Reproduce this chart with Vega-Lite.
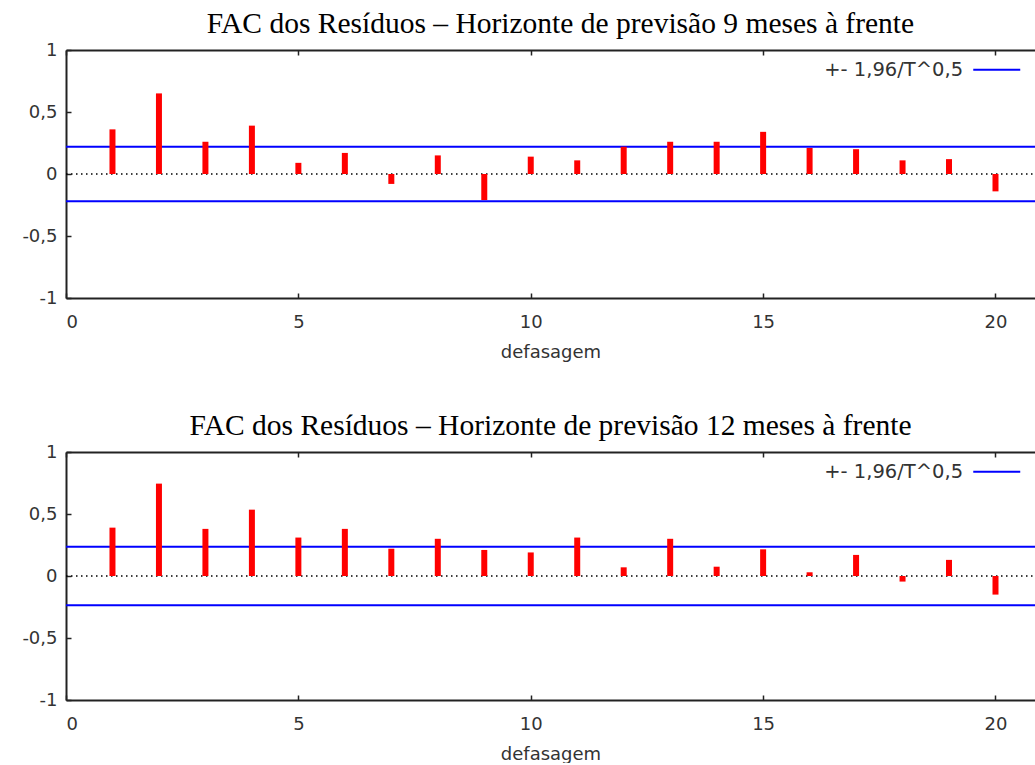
{
  "$schema": "https://vega.github.io/schema/vega-lite/v6.json",
  "padding": {"left": 21, "top": 8, "right": 0, "bottom": 0},
  "background": "white",
  "spacing": 49,
  "resolve": {"scale": {"color": "independent"}, "legend": {"color": "independent"}},
  "datasets": {
    "fac9": [
      {"lag": 1, "fac": 0.36}, {"lag": 2, "fac": 0.65}, {"lag": 3, "fac": 0.26}, {"lag": 4, "fac": 0.39},
      {"lag": 5, "fac": 0.09}, {"lag": 6, "fac": 0.17}, {"lag": 7, "fac": -0.08}, {"lag": 8, "fac": 0.15},
      {"lag": 9, "fac": -0.21}, {"lag": 10, "fac": 0.14}, {"lag": 11, "fac": 0.11}, {"lag": 12, "fac": 0.22},
      {"lag": 13, "fac": 0.26}, {"lag": 14, "fac": 0.26}, {"lag": 15, "fac": 0.34}, {"lag": 16, "fac": 0.21},
      {"lag": 17, "fac": 0.2}, {"lag": 18, "fac": 0.11}, {"lag": 19, "fac": 0.12}, {"lag": 20, "fac": -0.14}
    ],
    "fac12": [
      {"lag": 1, "fac": 0.39}, {"lag": 2, "fac": 0.745}, {"lag": 3, "fac": 0.38}, {"lag": 4, "fac": 0.535},
      {"lag": 5, "fac": 0.31}, {"lag": 6, "fac": 0.38}, {"lag": 7, "fac": 0.22}, {"lag": 8, "fac": 0.3},
      {"lag": 9, "fac": 0.21}, {"lag": 10, "fac": 0.19}, {"lag": 11, "fac": 0.31}, {"lag": 12, "fac": 0.07},
      {"lag": 13, "fac": 0.3}, {"lag": 14, "fac": 0.075}, {"lag": 15, "fac": 0.215}, {"lag": 16, "fac": 0.03},
      {"lag": 17, "fac": 0.17}, {"lag": 18, "fac": -0.045}, {"lag": 19, "fac": 0.13}, {"lag": 20, "fac": -0.15}
    ],
    "lim9": [
      {"limite": 0.22, "serie": "+- 1,96/T^0,5"}, {"limite": -0.22, "serie": "+- 1,96/T^0,5"}
    ],
    "lim12": [
      {"limite": 0.235, "serie": "+- 1,96/T^0,5"}, {"limite": -0.235, "serie": "+- 1,96/T^0,5"}
    ],
    "zero": [{"nivel": 0}]
  },
  "config": {
    "view": {"stroke": null},
    "title": {"font": "Liberation Serif", "fontSize": 29.5, "fontWeight": "normal", "color": "#000", "anchor": "middle", "offset": 2},
    "axis": {
      "labelFont": "DejaVu Sans", "labelFontSize": 18, "labelColor": "#333",
      "titleFont": "DejaVu Sans", "titleFontSize": 18, "titleFontWeight": "normal", "titleColor": "#333",
      "domainColor": "#222", "domainWidth": 2, "tickColor": "#222", "tickWidth": 1.5, "tickSize": -5,
      "grid": false
    },
    "legend": {
      "labelFont": "DejaVu Sans", "labelFontSize": 19.5, "labelColor": "#333",
      "symbolType": "M-4,0H4", "symbolStrokeWidth": 2, "symbolSize": 138,
      "labelAlign": "right", "labelOffset": -43.4, "padding": 0
    }
  },
  "vconcat": [
    {
      "width": 969, "height": 248,
      "title": {"text": "FAC dos Resíduos – Horizonte de previsão 9 meses à frente", "dx": 10},
      "resolve": {"axis": {"x": "independent"}},
      "layer": [
        {
          "data": {"name": "lim9"},
          "mark": {"type": "rule", "strokeWidth": 2},
          "encoding": {
            "y": {"field": "limite", "type": "quantitative",
                  "scale": {"domain": [-1, 1], "nice": false},
                  "axis": {"values": [-1, -0.5, 0, 0.5, 1], "title": null, "labelPadding": 14,
                           "labelExpr": "(datum.value < 0 ? '-' : '') + replace(format(abs(datum.value), ''), '.', ',')"}},
            "color": {"field": "serie", "type": "nominal", "scale": {"range": ["#0000ff"]},
                      "legend": {"title": null, "orient": "top-right", "offset": 10}}
          }
        },
        {
          "data": {"name": "zero"},
          "mark": {"type": "rule", "color": "#000", "strokeWidth": 1.5, "strokeDash": [1.5, 3.5]},
          "encoding": {
            "y": {"field": "nivel", "type": "quantitative"},
            "x": {"datum": 0, "type": "quantitative",
                  "axis": {"orient": "top", "labels": false, "title": null, "values": [0, 5, 10, 15, 20]}},
            "x2": {"datum": 20.85}
          }
        },
        {
          "data": {"name": "fac9"},
          "mark": {"type": "rule", "color": "#ff0000", "strokeWidth": 6},
          "encoding": {
            "x": {"field": "lag", "type": "quantitative",
                  "scale": {"domain": [0, 20.85], "nice": false, "zero": false},
                  "axis": {"orient": "bottom", "values": [0, 5, 10, 15, 20], "title": "defasagem", "labelPadding": 20, "titlePadding": 12}},
            "y": {"field": "fac", "type": "quantitative"},
            "y2": {"datum": 0}
          }
        }
      ]
    },
    {
      "width": 969, "height": 248,
      "title": "FAC dos Resíduos – Horizonte de previsão 12 meses à frente",
      "resolve": {"axis": {"x": "independent"}},
      "layer": [
        {
          "data": {"name": "lim12"},
          "mark": {"type": "rule", "strokeWidth": 2},
          "encoding": {
            "y": {"field": "limite", "type": "quantitative",
                  "scale": {"domain": [-1, 1], "nice": false},
                  "axis": {"values": [-1, -0.5, 0, 0.5, 1], "title": null, "labelPadding": 14,
                           "labelExpr": "(datum.value < 0 ? '-' : '') + replace(format(abs(datum.value), ''), '.', ',')"}},
            "color": {"field": "serie", "type": "nominal", "scale": {"range": ["#0000ff"]},
                      "legend": {"title": null, "orient": "top-right", "offset": 10}}
          }
        },
        {
          "data": {"name": "zero"},
          "mark": {"type": "rule", "color": "#000", "strokeWidth": 1.5, "strokeDash": [1.5, 3.5]},
          "encoding": {
            "y": {"field": "nivel", "type": "quantitative"},
            "x": {"datum": 0, "type": "quantitative",
                  "axis": {"orient": "top", "labels": false, "title": null, "values": [0, 5, 10, 15, 20]}},
            "x2": {"datum": 20.85}
          }
        },
        {
          "data": {"name": "fac12"},
          "mark": {"type": "rule", "color": "#ff0000", "strokeWidth": 6},
          "encoding": {
            "x": {"field": "lag", "type": "quantitative",
                  "scale": {"domain": [0, 20.85], "nice": false, "zero": false},
                  "axis": {"orient": "bottom", "values": [0, 5, 10, 15, 20], "title": "defasagem", "labelPadding": 20, "titlePadding": 12}},
            "y": {"field": "fac", "type": "quantitative"},
            "y2": {"datum": 0}
          }
        }
      ]
    }
  ]
}
